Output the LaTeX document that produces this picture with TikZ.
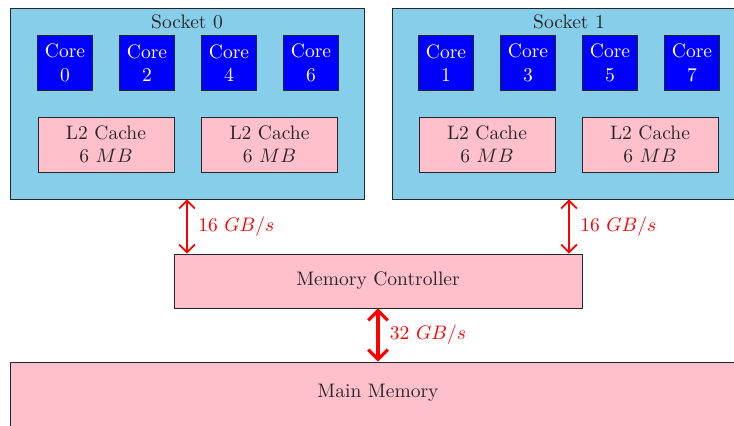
\documentclass[tikz,border=0pt]{standalone}
\usetikzlibrary{arrows.meta}
\begin{document}
\begin{tikzpicture}[x=0.512pt,y=-0.512pt,
  box/.style 2 args={draw=black!85,line width=0.5pt,rectangle,inner sep=0pt,
    minimum width=#1*0.512pt,minimum height=#2*0.512pt,align=center,text=black!85},
  sock/.style={box={354}{191},fill=skyb},
  corebox/.style={box={55}{55},fill=blue,text=white},
  cache/.style={box={136}{55},fill=pinkc},
  memc/.style={box={408}{54},fill=pinkc},
  mainm/.style={box={736}{72},fill=pinkc},
  link/.style={red,line width=0.9pt,{Straight Barb[length=4pt,width=8pt]}-{Straight Barb[length=4pt,width=8pt]}},
  biglink/.style={red,line width=1.6pt,{Straight Barb[length=5pt,width=10pt]}-{Straight Barb[length=5pt,width=10pt]}},
  bw/.style={text=red,anchor=west}]
\definecolor{skyb}{HTML}{87CEEB}
\definecolor{pinkc}{HTML}{FFC0CB}
\useasboundingbox (0,0) rectangle (734,426);
\clip (0,0) rectangle (734,426);
\node[sock] (s0) at (187,103.5) {};
\node[sock] (s1) at (569,103.5) {};
\node[text=black!85] (s0t) at (187,22) {Socket 0};
\node[text=black!85] (s1t) at (569,22) {Socket 1};
\node[corebox] (c0) at (65,63) {Core\\0};
\node[corebox] (c2) at (147,63) {Core\\2};
\node[corebox] (c4) at (229,63) {Core\\4};
\node[corebox] (c6) at (311,63) {Core\\6};
\node[corebox] (c1) at (446,63) {Core\\1};
\node[corebox] (c3) at (528,63) {Core\\3};
\node[corebox] (c5) at (610,63) {Core\\5};
\node[corebox] (c7) at (692,63) {Core\\7};
\node[cache] (l0) at (106,144.5) {L2 Cache\\6 $MB$};
\node[cache] (l1) at (269.5,144.5) {L2 Cache\\6 $MB$};
\node[cache] (l2) at (487,144.5) {L2 Cache\\6 $MB$};
\node[cache] (l3) at (650,144.5) {L2 Cache\\6 $MB$};
\node[memc] (mc) at (378,281) {Memory Controller};
\node[mainm] (mm) at (378,398) {};
\node[text=black!85] (mmt) at (378,393) {Main Memory};
\draw[link] (s0.south) -- (s0.south |- mc.north) node[midway,bw,xshift=2pt] (b0) {16 $GB/s$};
\draw[link] (s1.south) -- (s1.south |- mc.north) node[midway,bw,xshift=2pt] (b1) {16 $GB/s$};
\draw[biglink] (mc.south) -- (mm.north) node[midway,bw,xshift=2pt] (b2) {32 $GB/s$};
\end{tikzpicture}
\end{document}
